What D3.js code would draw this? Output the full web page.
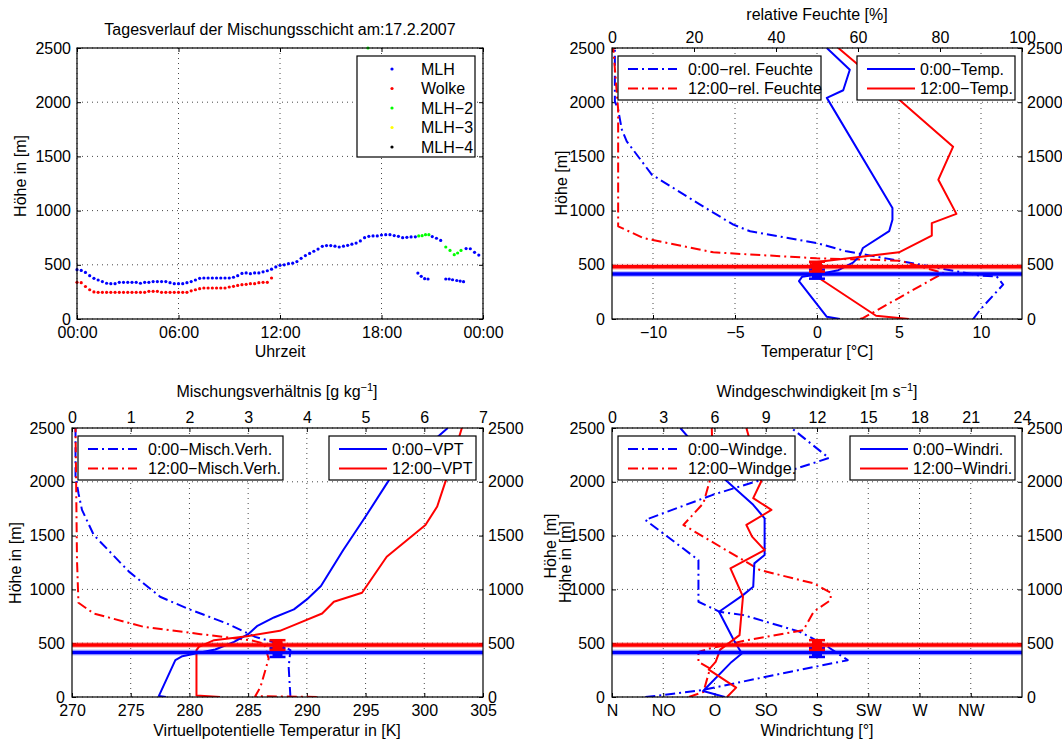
<!DOCTYPE html>
<html>
<head>
<meta charset="utf-8">
<script src="https://cdn.jsdelivr.net/npm/d3@7"></script>
<style>
  body { margin: 0; background: #fff; }
  svg { font-family: "Liberation Sans", Arial, Helvetica, sans-serif; }
</style>
</head>
<body>
<svg width="1062" height="740"></svg>
<script>
// ---------- Daten: Tagesverlauf (15-Minuten-Raster ab 00:00) ----------
const stepHours = 0.25;
const mlhHeight = [
  455,448,430,400,375,360,345,330,326,326,
  338,338,338,338,338,330,338,338,345,345,
  345,345,335,326,326,326,335,345,360,375,
  378,378,378,378,378,378,378,385,400,420,
  425,418,425,425,435,445,460,480,495,500,
  510,515,530,560,585,605,625,645,670,677,
  677,672,664,672,680,690,700,720,750,763,
  766,766,775,778,778,770,763,750,753,757,
  758,null,null,null,760,745,725,null,null,null,
  null,null,650,648,615,590
];
const wolkeHeight = [
  338,335,300,270,250,246,246,246,246,246,
  246,246,246,246,246,246,246,255,255,255,
  246,246,246,246,246,246,246,260,270,280,
  286,286,286,286,286,286,295,301,310,317,
  320,326,326,335,338,338,378
];
const mlhLowTime = [20.15, 20.35, 20.55, 20.75, 21.8, 22.0, 22.2, 22.45, 22.65, 22.85];
const mlhLowHeight = [424, 394, 372, 369, 369, 369, 362, 355, 350, 344];
const mlh2Time = [17.2, 20.2, 20.4, 20.6, 20.8, 21.8, 22.05, 22.3, 22.5, 22.7];
const mlh2Height = [2500, 766, 769, 778, 778, 664, 633, 593, 609, 633];
const mlh3Time = [], mlh3Height = [];
const mlh4Time = [], mlh4Height = [];

const hourTicks = [0, 6, 12, 18, 24];
const hourLabels = ['00:00', '06:00', '12:00', '18:00', '00:00'];
const heightTicks = [0, 500, 1000, 1500, 2000, 2500];

// ---------- Mischungsschichthoehe mit Fehlerbalken ----------
const mlhNight = 414, mlhNightErr = 42;
const mlhDay = 483, mlhDayErr = 45;

// ---------- Radiosonde: Temperatur [°C] und rel. Feuchte [%] ----------
const tempH0 = [0, 20, 350, 390, 410, 450, 520, 580, 655, 810, 915, 1025, 2040, 2110, 2300, 2500];
const tempV0 = [1.4, 0.6, -1.1, -0.9, 0.0, 1.3, 2.2, 2.6, 2.8, 4.4, 4.6, 4.6, 0.6, 1.6, 2.0, 0.6];
const tempH12 = [0, 30, 390, 470, 520, 615, 770, 885, 970, 1285, 1590, 2025, 2360, 2500];
const tempV12 = [5.6, 3.6, 0.0, -0.3, -0.4, 5.0, 7.0, 7.0, 8.5, 7.4, 8.3, 5.0, 2.4, 1.3];
const rhH0 = [0, 86, 317, 394, 400, 547, 624, 701, 809, 870, 1055, 1332, 1639, 1747, 1931, 2008, 2500];
const rhV0 = [88.1, 89.8, 95.4, 93.8, 89.8, 68.6, 57.2, 49.9, 33.7, 29.6, 21.5, 9.7, 3.6, 2.4, 1.5, 0.7, 0.7];
const rhH12 = [0, 10, 424, 538, 560, 615, 747, 855, 1931, 2500];
const rhV12 = [60.5, 61.3, 80.8, 70.2, 49.9, 24.7, 7.6, 1.5, 1.5, 0.3];
const tempTicks = [-10, -5, 0, 5, 10];
const rhTicks = [0, 20, 40, 60, 80, 100];

// ---------- VPT [K] und Mischungsverhaeltnis [g/kg] ----------
const vptH0 = [0, 10, 342, 379, 404, 441, 512, 584, 658, 739, 814, 907, 1031, 1366, 1677, 2034, 2500];
const vptV0 = [278.0, 277.4, 278.8, 279.4, 280.5, 282.2, 283.8, 285.0, 285.75, 287.2, 288.9, 290.0, 291.2, 293.1, 295.0, 297.1, 302.0];
const vptH12 = [0, 15, 435, 466, 528, 565, 615, 668, 776, 885, 969, 1304, 1599, 1770, 2034, 2500];
const vptV12 = [282.6, 280.6, 280.6, 280.8, 282.1, 284.9, 287.7, 288.9, 291.3, 292.3, 294.7, 296.8, 300.1, 301.1, 301.9, 303.2];
const mixH0 = [0, 280, 435, 497, 559, 683, 823, 932, 1165, 1506, 1739, 1894, 2050, 2500];
const mixV0 = [3.72, 3.69, 3.72, 3.52, 3.12, 2.64, 1.96, 1.5, 0.97, 0.37, 0.17, 0.11, 0.06, 0.06];
const mixH12 = [0, 8, 93, 357, 497, 528, 584, 652, 776, 876, 1273, 2500];
const mixV12 = [4.17, 3.12, 3.21, 3.35, 3.27, 3.04, 2.19, 1.22, 0.37, 0.11, 0.085, 0.06];
const vptTicks = [270, 275, 280, 285, 290, 295, 300, 305];
const mixTicks = [0, 1, 2, 3, 4, 5, 6, 7];

// ---------- Wind: Richtung [°] und Geschwindigkeit [m/s] ----------
const dirH0 = [0, 56, 326, 404, 528, 792, 947, 1025, 1242, 1320, 1661, 1786, 2034, 2500];
const dirV0 = [99, 80, 105, 114, 107, 94, 115, 124, 125, 134, 134, 124, 98, 60];
const dirH12 = [0, 87, 255, 326, 440, 575, 932, 1196, 1366, 1491, 1599, 1739, 1848, 2003, 2500];
const dirV12 = [101, 109, 85, 91, 95, 112, 115, 104, 134, 123, 118, 140, 124, 131, 118];
const spdH0 = [0, 16, 62, 217, 342, 481, 606, 761, 792, 885, 1273, 1646, 1879, 2019, 2221, 2500];
const spdV0 = [1.95, 2.9, 5.2, 9.9, 13.8, 12.5, 11.0, 7.7, 6.3, 5.06, 5.06, 1.95, 5.9, 8.75, 12.7, 10.5];
const spdH12 = [0, 47, 264, 326, 419, 450, 528, 621, 792, 901, 969, 1056, 1180, 1599, 1801, 2019, 2174, 2500];
const spdV12 = [4.5, 5.35, 5.74, 5.06, 5.06, 5.7, 7.9, 11.2, 11.8, 12.8, 12.8, 11.8, 8.66, 4.18, 5.35, 5.74, 5.9, 5.84];
const dirTicks = [0, 45, 90, 135, 180, 225, 270, 315];
const dirLabels = ['N', 'NO', 'O', 'SO', 'S', 'SW', 'W', 'NW'];
const spdTicks = [0, 3, 6, 9, 12, 15, 18, 21, 24];

const BLUE = '#0000ff', RED = '#ff0000';
const DASHDOT = '10,4,2,4';
const FS = 16;
const fmt = d3.format('d');
const svg = d3.select('svg');

function styleAxis(sel) {
  sel.attr('font-size', FS).attr('font-family', null);
  sel.select('.domain').remove();
  sel.selectAll('.tick line').attr('stroke', '#000');
  sel.selectAll('.tick text').attr('fill', '#000');
}

// Gitter (gepunktet)
function frame(g, x, y, o) {
  const [x0, x1] = x.range();
  const [y1, y0] = y.range();
  const grid = g.append('g').attr('stroke', '#333').attr('stroke-dasharray', '1,4').attr('stroke-width', 0.9);
  grid.selectAll(null).data(o.gridX).join('line')
    .attr('x1', d => x(d)).attr('x2', d => x(d)).attr('y1', y0).attr('y2', y1);
  grid.selectAll(null).data(heightTicks).join('line')
    .attr('x1', x0).attr('x2', x1).attr('y1', d => y(d)).attr('y2', d => y(d));
}

function box(g, x, y) {
  const [x0, x1] = x.range();
  const [y1, y0] = y.range();
  g.append('rect').attr('x', x0).attr('y', y0).attr('width', x1 - x0).attr('height', y1 - y0)
    .attr('fill', 'none').attr('stroke', '#000').attr('stroke-width', 1.2);
}

function label(x, y, text, rotate, anchor) {
  const t = svg.append('text').attr('font-size', FS).attr('text-anchor', anchor || 'middle')
    .attr('transform', `translate(${x},${y})` + (rotate ? ' rotate(-90)' : ''));
  if (Array.isArray(text)) {
    text.forEach(p => {
      const s = t.append('tspan').text(p.t);
      if (p.sup) s.attr('font-size', 11).attr('dy', -6);
      if (p.after) s.attr('dy', 6);
    });
  } else t.text(text);
  return t;
}

function legend(x, y, w, h, entries, sample) {
  const g = svg.append('g');
  g.append('rect').attr('x', x).attr('y', y).attr('width', w).attr('height', h)
    .attr('fill', '#fff').attr('stroke', '#000').attr('stroke-width', 1.2);
  entries.forEach((e, i) => {
    const cy = y + 13 + i * 19.5;
    if (e.dot) {
      g.append('circle').attr('cx', x + sample[0]).attr('cy', cy).attr('r', 1.6).attr('fill', e.color);
    } else {
      g.append('line').attr('x1', x + sample[0]).attr('x2', x + sample[1]).attr('y1', cy).attr('y2', cy)
        .attr('stroke', e.color).attr('stroke-width', 2).attr('stroke-dasharray', e.dash || null);
    }
    g.append('text').attr('x', x + sample[2]).attr('y', cy + 5.7).attr('font-size', FS).text(e.label);
  });
}

// ---------- Panel 1: Tagesverlauf ----------
(function () {
  const g = svg.append('g');
  const x = d3.scaleLinear().domain([0, 24]).range([77, 483]);
  const y = d3.scaleLinear().domain([0, 2500]).range([319, 48]);
  frame(g, x, y, { gridX: hourTicks });
  g.append('g').attr('transform', 'translate(0,319)')
    .call(d3.axisBottom(x).tickValues(hourTicks).tickSize(-4).tickPadding(8).tickFormat((d, i) => hourLabels[i]))
    .call(styleAxis);
  g.append('g').attr('transform', 'translate(0,48)')
    .call(d3.axisTop(x).tickValues(hourTicks).tickSize(-4).tickFormat('')).call(styleAxis);
  g.append('g').attr('transform', 'translate(77,0)')
    .call(d3.axisLeft(y).tickValues(heightTicks).tickSize(-4).tickPadding(6).tickFormat(fmt)).call(styleAxis);
  g.append('g').attr('transform', 'translate(483,0)')
    .call(d3.axisRight(y).tickValues(heightTicks).tickSize(-4).tickFormat('')).call(styleAxis);

  const dots = (times, heights, color) => {
    const pts = times.map((t, i) => [t, heights[i]]).filter(d => d[1] != null);
    g.append('g').selectAll('circle').data(pts).join('circle')
      .attr('cx', d => x(d[0])).attr('cy', d => y(d[1])).attr('r', 1.6).attr('fill', color);
  };
  dots(mlhHeight.map((_, i) => i * stepHours), mlhHeight, BLUE);
  dots(mlhLowTime, mlhLowHeight, BLUE);
  dots(wolkeHeight.map((_, i) => i * stepHours), wolkeHeight, RED);
  dots(mlh2Time, mlh2Height, '#00ff00');
  dots(mlh3Time, mlh3Height, '#ffff00');
  dots(mlh4Time, mlh4Height, '#000');
  box(g, x, y);

  legend(357, 56, 118, 101, [
    { label: 'MLH', color: BLUE, dot: true },
    { label: 'Wolke', color: RED, dot: true },
    { label: 'MLH\u22122', color: '#00ff00', dot: true },
    { label: 'MLH\u22123', color: '#ffff00', dot: true },
    { label: 'MLH\u22124', color: '#000', dot: true }
  ], [35, 35, 64]);

  label(280, 35, 'Tagesverlauf der Mischungsschicht am:17.2.2007');
  label(280, 357, 'Uhrzeit');
  label(26, 176, 'H\u00f6he in [m]', true);
})();

// ---------- Profil-Panels ----------
function profilePanel(o) {
  const g = svg.append('g');
  const y = d3.scaleLinear().domain([0, 2500]).range([o.bottom, o.top]);
  const xb = d3.scaleLinear().domain(o.bottomDomain).range([o.left, o.right]);
  const xt = d3.scaleLinear().domain(o.topDomain).range([o.left, o.right]);
  frame(g, xb, y, { gridX: o.bottomTicks.filter(d => d > o.bottomDomain[0] && d < o.bottomDomain[1]) });

  g.append('g').attr('transform', `translate(0,${o.bottom})`)
    .call(d3.axisBottom(xb).tickValues(o.bottomTicks).tickSize(-4).tickPadding(8)
      .tickFormat(o.bottomFormat || fmt))
    .call(styleAxis);
  g.append('g').attr('transform', `translate(0,${o.top})`)
    .call(d3.axisTop(xt).tickValues(o.topTicks).tickSize(-4).tickPadding(5).tickFormat(fmt)).call(styleAxis);
  g.append('g').attr('transform', `translate(${o.left},0)`)
    .call(d3.axisLeft(y).tickValues(heightTicks).tickSize(-4).tickPadding(7).tickFormat(fmt)).call(styleAxis);
  g.append('g').attr('transform', `translate(${o.right},0)`)
    .call(d3.axisRight(y).tickValues(heightTicks).tickSize(-4).tickPadding(5).tickFormat(fmt)).call(styleAxis);

  const clipId = 'clip' + o.left + '_' + o.top;
  g.append('clipPath').attr('id', clipId).append('rect')
    .attr('x', o.left).attr('y', o.top).attr('width', o.right - o.left).attr('height', o.bottom - o.top);
  const plot = g.append('g').attr('clip-path', `url(#${clipId})`);

  o.series.forEach(s => {
    const x = s.axis === 'top' ? xt : xb;
    const line = d3.line().x(d => x(d[1])).y(d => y(d[0]));
    plot.append('path').datum(s.h.map((h, i) => [h, s.v[i]]))
      .attr('d', line).attr('fill', 'none').attr('stroke', s.color).attr('stroke-width', 2)
      .attr('stroke-dasharray', s.dash || null).attr('stroke-linejoin', 'round');
  });

  // MLH-Linien mit Fehlerbalken
  const xc = d3.mean(o.bottomDomain);
  [[mlhNight, mlhNightErr, BLUE], [mlhDay, mlhDayErr, RED]].forEach(([h, e, c]) => {
    plot.append('line').attr('x1', o.left).attr('x2', o.right).attr('y1', y(h)).attr('y2', y(h))
      .attr('stroke', c).attr('stroke-width', 6).attr('stroke-opacity', 0.25);
    plot.append('line').attr('x1', o.left).attr('x2', o.right).attr('y1', y(h)).attr('y2', y(h))
      .attr('stroke', c).attr('stroke-width', 3.5);
    const eb = plot.append('g').attr('stroke', c).attr('stroke-width', 2.5);
    eb.append('line').attr('x1', xb(xc)).attr('x2', xb(xc)).attr('y1', y(h - e)).attr('y2', y(h + e));
    [h - e, h + e].forEach(v => eb.append('line').attr('x1', xb(xc) - 8).attr('x2', xb(xc) + 8)
      .attr('y1', y(v)).attr('y2', y(v)));
    plot.append('rect').attr('x', xb(xc) - 5).attr('y', y(h) - 5).attr('width', 10).attr('height', 10)
      .attr('fill', c);
  });
  box(g, xb, y);

  legend(o.left + 6, o.top + 8, o.leg1w, 44, o.leg1, [10, 59, 70]);
  legend(o.leg2x, o.top + 8, o.right - 7 - o.leg2x, 44, o.leg2, [10, 58, 63]);
}

profilePanel({
  left: 612, right: 1022, top: 48, bottom: 319,
  bottomDomain: [-12.5, 12.5], bottomTicks: tempTicks,
  topDomain: [0, 100], topTicks: rhTicks,
  series: [
    { axis: 'top', h: rhH0, v: rhV0, color: BLUE, dash: DASHDOT },
    { axis: 'top', h: rhH12, v: rhV12, color: RED, dash: DASHDOT },
    { axis: 'bottom', h: tempH0, v: tempV0, color: BLUE },
    { axis: 'bottom', h: tempH12, v: tempV12, color: RED }
  ],
  leg1w: 203, leg1: [
    { label: '0:00\u2212rel. Feuchte', color: BLUE, dash: DASHDOT },
    { label: '12:00\u2212rel. Feuchte', color: RED, dash: DASHDOT }
  ],
  leg2x: 857, leg2: [
    { label: '0:00\u2212Temp.', color: BLUE },
    { label: '12:00\u2212Temp.', color: RED }
  ]
});

profilePanel({
  left: 72, right: 483, top: 428, bottom: 697,
  bottomDomain: [270, 305], bottomTicks: vptTicks,
  topDomain: [0, 7], topTicks: mixTicks,
  series: [
    { axis: 'top', h: mixH0, v: mixV0, color: BLUE, dash: DASHDOT },
    { axis: 'top', h: mixH12, v: mixV12, color: RED, dash: DASHDOT },
    { axis: 'bottom', h: vptH0, v: vptV0, color: BLUE },
    { axis: 'bottom', h: vptH12, v: vptV12, color: RED }
  ],
  leg1w: 205, leg1: [
    { label: '0:00\u2212Misch.Verh.', color: BLUE, dash: DASHDOT },
    { label: '12:00\u2212Misch.Verh.', color: RED, dash: DASHDOT }
  ],
  leg2x: 329, leg2: [
    { label: '0:00\u2212VPT', color: BLUE },
    { label: '12:00\u2212VPT', color: RED }
  ]
});

profilePanel({
  left: 612, right: 1022, top: 428, bottom: 697,
  bottomDomain: [0, 360], bottomTicks: dirTicks, bottomFormat: (d, i) => dirLabels[i],
  topDomain: [0, 24], topTicks: spdTicks,
  series: [
    { axis: 'top', h: spdH0, v: spdV0, color: BLUE, dash: DASHDOT },
    { axis: 'top', h: spdH12, v: spdV12, color: RED, dash: DASHDOT },
    { axis: 'bottom', h: dirH0, v: dirV0, color: BLUE },
    { axis: 'bottom', h: dirH12, v: dirV12, color: RED }
  ],
  leg1w: 177, leg1: [
    { label: '0:00\u2212Windge.', color: BLUE, dash: DASHDOT },
    { label: '12:00\u2212Windge.', color: RED, dash: DASHDOT }
  ],
  leg2x: 850, leg2: [
    { label: '0:00\u2212Windri.', color: BLUE },
    { label: '12:00\u2212Windri.', color: RED }
  ]
});

// Achsentitel
label(817, 20, 'relative Feuchte [%]');
label(817, 357, 'Temperatur [\u00b0C]');
label(567, 183, 'H\u00f6he [m]', true);
label(277, 397, [{ t: 'Mischungsverh\u00e4ltnis [g kg' }, { t: '\u22121', sup: true }, { t: ']', after: true }]);
label(277, 736, 'Virtuellpotentielle Temperatur in [K]');
label(21, 563, 'H\u00f6he in [m]', true);
label(817, 397, [{ t: 'Windgeschwindigkeit [m s' }, { t: '\u22121', sup: true }, { t: ']', after: true }]);
label(817, 736, 'Windrichtung [\u00b0]');
label(556, 546, 'H\u00f6he [m]', true);
label(571, 562, 'H\u00f6he in [m]', true);
</script>
</body>
</html>
